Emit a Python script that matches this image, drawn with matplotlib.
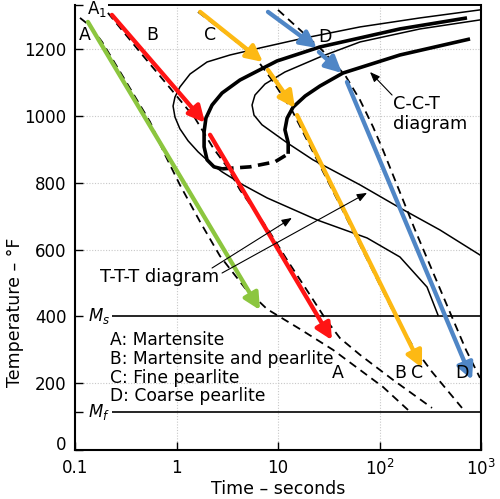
import matplotlib
matplotlib.use('Agg')
import matplotlib.pyplot as plt

# ---------------- data (time in s, temperature in F) ----------------
ttt_start_t = [977, 251, 64.3, 16.5, 6.65, 3.37, 2.0, 1.36, 1.08, 0.966, 0.925, 0.966, 1.08, 1.30,
               1.63, 2.14, 2.81, 4.52, 7.80, 24.2, 75.4, 159, 294, 377]
ttt_start_T = [1318, 1294, 1267, 1231, 1204, 1183, 1162, 1126, 1087, 1057, 1030, 997, 962, 926,
               893, 860, 833, 794, 755, 689, 635, 578, 488, 404]

ttt_finish_t = [977, 251, 64.3, 25.9, 11.7, 7.45, 5.93, 5.55, 5.80, 6.95, 12.3, 22.1, 64.3, 159, 394, 977]
ttt_finish_T = [1288, 1261, 1222, 1177, 1132, 1096, 1063, 1033, 1003, 974, 920, 869, 794, 725, 659, 584]

cct_start_t = [728, 159, 25.9, 9.77, 4.22, 2.81, 2.24, 1.95, 1.87, 1.87, 2.0, 2.34, 2.81]
cct_start_T = [1294, 1261, 1207, 1165, 1108, 1069, 1033, 994, 953, 908, 869, 848, 842]

cct_link_t = [2.81, 5.30, 9.34, 12.6]
cct_link_T = [842, 848, 863, 887]

cct_finish_t = [12.6, 12.6, 11.7, 12.3, 14.1, 18.5, 25.9, 43.7, 159, 780]
cct_finish_T = [887, 920, 959, 994, 1027, 1060, 1090, 1129, 1183, 1231]

cool_A_t = [0.112, 0.141, 0.185, 0.311, 0.548, 0.771, 1.08, 1.71, 2.68, 4.73, 7.80, 16.5, 34.8, 108, 191]
cool_A_T = [1294, 1270, 1222, 1108, 983, 884, 794, 683, 581, 485, 422, 362, 300, 189, 120]

cool_B_t = [0.211, 0.436, 0.863, 1.52, 2.29, 3.15, 4.22, 7.80, 12.3, 20.7, 29.0, 40.8, 64.3, 136, 329]
cool_B_T = [1309, 1192, 1084, 994, 905, 848, 779, 665, 569, 464, 395, 335, 285, 210, 126]

cool_C_t = [1.63, 3.22, 5.93, 8.73, 13.7, 21.6, 40.8, 80.6, 142, 209, 329, 462, 650]
cool_C_T = [1312, 1243, 1177, 1108, 1018, 899, 734, 554, 404, 315, 234, 180, 126]

cool_D_t = [10.0, 15.7, 27.1, 45.7, 64.3, 86.3, 108, 224, 484, 711, 977]
cool_D_T = [1318, 1264, 1198, 1123, 1048, 968, 899, 659, 419, 300, 216]

# coloured cooling paths: (t_start, T_start, t_end, T_end)
path_A = [(0.134, 1282, 6.65, 419)]
path_B = [(0.231, 1303, 1.91, 980), (2.14, 944, 34.0, 329)]
path_C = [(1.71, 1312, 7.11, 1162), (7.97, 1138, 14.7, 1024), (15.4, 1003, 262, 246)]
path_D = [(7.97, 1312, 24.2, 1204), (25.3, 1192, 42.7, 1129), (47.8, 1102, 815, 210)]

A1_temp = 1333
Ms_temp = 400
Mf_temp = 115

x_ticks = [0.1, 1, 10, 100, 1000]
x_ticklabels = ['0.1', '1', '10', '$10^2$', '$10^3$']
y_ticks = [0, 115, 200, 400, 600, 800, 1000, 1200, 1333]
y_ticklabels = ['0', '', '200', '400', '600', '800', '1000', '1200', '']
grid_x = [1, 10, 100]
grid_T = [200, 600, 800, 1000, 1200]

legend_lines = ['A: Martensite', 'B: Martensite and pearlite', 'C: Fine pearlite', 'D: Coarse pearlite']

# ---------------- figure ----------------
fig = plt.figure(figsize=(5.0, 4.99), dpi=100)
ax = fig.add_axes([0.15, 0.0982, 0.812, 0.892])
ax.set_xscale('log')
ax.set_xlim(0.1, 1000)
ax.set_ylim(0, A1_temp)
ax.minorticks_off()

for g in grid_x:
    ax.axvline(g, color='#c8c8c8', lw=0.8, ls=(0, (1, 1.5)), zorder=0)
for g in grid_T:
    ax.axhline(g, color='#c8c8c8', lw=0.8, ls=(0, (1, 1.5)), zorder=0)

# reference lines
ax.hlines(A1_temp, 0.211, 1000, color='black', lw=1.4, clip_on=False, zorder=3)
ax.hlines(Ms_temp, 0.231, 1000, color='black', lw=1.2, zorder=3)
ax.hlines(Mf_temp, 0.231, 1000, color='black', lw=1.2, zorder=3)
ax.text(0.163, 1322, 'A$_1$', fontsize=12, ha='center', va='center', zorder=4)
ax.text(0.172, Ms_temp, '$M_s$', fontsize=12, ha='center', va='center', zorder=4)
ax.text(0.172, Mf_temp, '$M_f$', fontsize=12, ha='center', va='center', zorder=4)

# TTT thin curves
ax.plot(ttt_start_t, ttt_start_T, color='black', lw=1.1, zorder=3, solid_joinstyle='round')
ax.plot(ttt_finish_t, ttt_finish_T, color='black', lw=1.1, zorder=3, solid_joinstyle='round')
# CCT thick curves
ax.plot(cct_start_t, cct_start_T, color='black', lw=2.6, zorder=3, solid_joinstyle='round', solid_capstyle='butt')
ax.plot(cct_link_t, cct_link_T, color='black', lw=2.6, ls=(0, (3.2, 1.8)), zorder=3)
ax.plot(cct_finish_t, cct_finish_T, color='black', lw=2.6, zorder=3, solid_joinstyle='round', solid_capstyle='butt')

# dashed cooling curves
for tt, TT in [(cool_A_t, cool_A_T), (cool_B_t, cool_B_T), (cool_C_t, cool_C_T), (cool_D_t, cool_D_T)]:
    ax.plot(tt, TT, color='black', lw=1.3, ls=(0, (4.5, 3)), zorder=4)

# coloured arrows
colors = {'A': '#8cc63f', 'B': '#ff1414', 'C': '#fdb913', 'D': '#4f86c6'}
for key, segs in [('A', path_A), ('B', path_B), ('C', path_C), ('D', path_D)]:
    for (t0, T0, t1, T1) in segs:
        ax.annotate('', xy=(t1, T1), xytext=(t0, T0),
                    arrowprops=dict(arrowstyle='-|>,head_length=0.7,head_width=0.35',
                                    lw=3.1, color=colors[key], shrinkA=0, shrinkB=0,
                                    mutation_scale=14), zorder=5)

# curve labels
for lab, t, T in [('A', 0.125, 1243), ('B', 0.574, 1243), ('C', 2.14, 1243), ('D', 29.0, 1237),
                  ('A', 39.0, 231), ('B', 159, 231), ('C', 234, 231), ('D', 650, 231)]:
    ax.text(t, T, lab, fontsize=12.5, ha='center', va='center', zorder=6)

# legend text
for i, line in enumerate(legend_lines):
    ax.text(0.221, 329 - i * 56, line, fontsize=12.3, ha='left', va='center', zorder=6)

# diagram annotations
ax.text(0.687, 518, 'T-T-T diagram', fontsize=12.8, ha='center', va='center', zorder=6)
arrow_kw = dict(arrowstyle='-|>,head_length=0.5,head_width=0.2', lw=0.8, color='black',
                shrinkA=0, shrinkB=0, mutation_scale=12)
ax.annotate('', xy=(13.7, 695), xytext=(2.24, 545), arrowprops=arrow_kw, zorder=6)
ax.annotate('', xy=(75.4, 770), xytext=(2.81, 530), arrowprops=arrow_kw, zorder=6)
ax.text(136, 1006, 'C-C-T\ndiagram', fontsize=12.8, ha='left', va='center', linespacing=1.1, zorder=6)
ax.annotate('', xy=(80.6, 1132), xytext=(133, 1063), arrowprops=arrow_kw, zorder=6)

# axes styling
ax.spines['top'].set_visible(False)
for s in ['left', 'right', 'bottom']:
    ax.spines[s].set_linewidth(1.5)
ax.set_xticks(x_ticks)
ax.set_xticklabels(x_ticklabels)
ax.set_yticks(y_ticks)
ax.set_yticklabels(y_ticklabels)
ax.tick_params(direction='in', length=6, width=1.0, labelsize=12, pad=5)
ax.tick_params(axis='x', pad=6.5)
ax.tick_params(axis='y', pad=6)
ax.get_yticklabels()[0].set_verticalalignment('baseline')

ax.set_xlabel('Time – seconds', fontsize=12.5)
ax.xaxis.set_label_coords(0.5, -0.067)
ax.set_ylabel('Temperature – °F', fontsize=12.5)
ax.yaxis.set_label_coords(-0.125, 0.31)

fig.savefig('out.png', dpi=100)
